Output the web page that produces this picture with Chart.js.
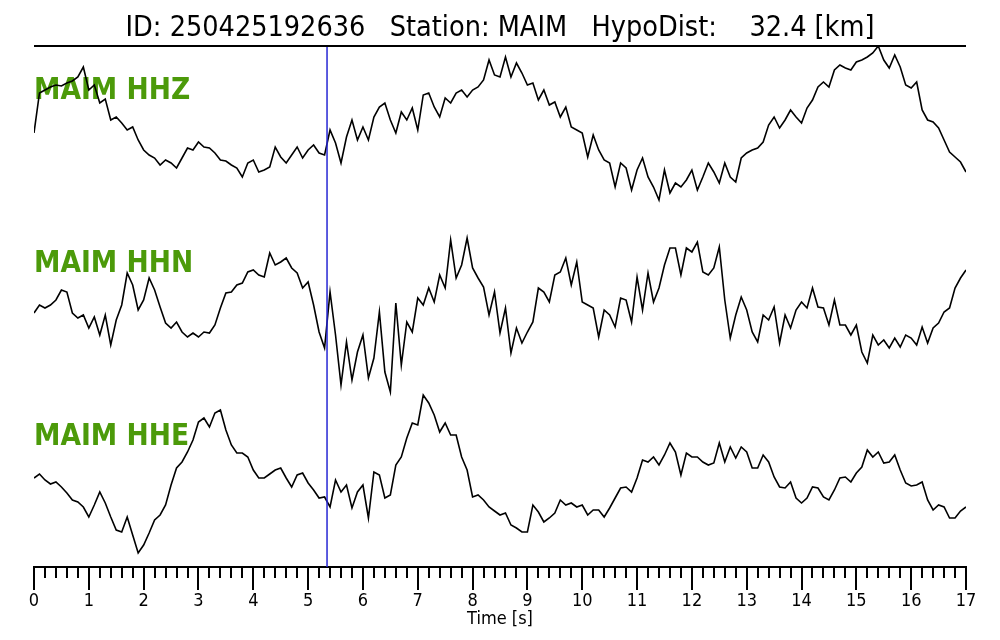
<!DOCTYPE html>
<html>
<head>
<meta charset="utf-8">
<title>MAIM waveforms</title>
<script src="https://cdn.jsdelivr.net/npm/chart.js@4"></script>
<style>
  html, body { margin: 0; padding: 0; background: #fff; }
  canvas { display: block; }
</style>
</head>
<body>
<canvas id="traces" width="1000" height="640"></canvas>
<script>
// Header
const eventId = '250425192636';
const stationCode = 'MAIM';
const hypoDistKm = 32.4;

// Channels, top to bottom
const channels = ['HHZ', 'HHN', 'HHE'];

// Time axis
const timeMin = 0;
const timeMax = 17;
const sampleStep = 0.1;   // s between values below
const pickTime = 5.345;   // blue marker

// Amplitudes (relative units, 0 = trace centre), t = 0.0 ... 17.0 s
const hhz = [
  -8, 32, 35, 38, 40, 39, 42, 44, 48, 58,
  35, 40, 22, 26, 5, 8, 2, -5, -2, -15,
  -25, -30, -33, -40, -35, -38, -43, -33, -23, -25,
  -17, -22, -23, -28, -35, -36, -40, -43, -52, -38,
  -35, -47, -45, -42, -22, -32, -38, -30, -22, -33,
  -25, -20, -28, -30, -5, -18, -38, -12, 5, -15,
  -2, -15, 8, 18, 22, 5, -8, 13, 5, 17,
  -5, 30, 32, 18, 8, 27, 22, 32, 35, 28,
  35, 38, 45, 65, 50, 48, 68, 48, 62, 52,
  40, 42, 25, 35, 20, 23, 8, 18, -2, -5,
  -8, -32, -10, -25, -35, -38, -62, -38, -43, -65,
  -45, -33, -52, -62, -75, -45, -68, -58, -62, -55,
  -45, -65, -52, -38, -47, -58, -38, -52, -57, -33,
  -28, -25, -23, -17, 0, 8, -3, 5, 15, 8,
  2, 17, 25, 38, 43, 38, 55, 60, 57, 55,
  63, 65, 68, 72, 79, 65, 57, 70, 58, 40,
  37, 43, 15, 5, 3, -3, -15, -27, -32, -37,
  -47
];
const hhn = [
  2, 10, 7, 10, 15, 25, 23, 2, -3, 0,
  -13, -2, -20, 0, -30, -5, 10, 42, 30, 5,
  15, 37, 25, 8, -8, -13, -7, -17, -22, -18,
  -22, -17, -18, -10, 7, 22, 23, 30, 32, 43,
  45, 40, 38, 62, 50, 53, 57, 47, 42, 27,
  33, 10, -17, -33, 23, -20, -70, -27, -65, -37,
  -20, -63, -43, 3, -57, -77, 12, -50, -7, -17,
  17, 10, 27, 13, 40, 27, 75, 37, 50, 77,
  47, 37, 28, 0, 23, -18, 7, -38, -13, -28,
  -17, -7, 27, 23, 13, 40, 43, 57, 30, 53,
  13, 10, 7, -22, 5, 0, -12, 17, 15, -7,
  38, 5, 42, 13, 27, 50, 67, 67, 40, 67,
  63, 73, 43, 40, 47, 68, 15, -23, 0, 18,
  5, -17, -27, 0, -5, 8, -28, 0, -13, 5,
  13, 7, 27, 8, 7, -10, 15, -10, -10, -20,
  -10, -37, -48, -20, -30, -25, -33, -23, -32, -20,
  -23, -30, -12, -28, -13, -8, 3, 7, 27, 37,
  45
];
const hhe = [
  -3, 1, -5, -9, -7, -12, -18, -25, -27, -32,
  -42, -30, -17, -28, -42, -55, -57, -42, -60, -78,
  -70, -58, -45, -40, -30, -10, 7, 13, 23, 35,
  53, 57, 48, 62, 65, 45, 30, 22, 22, 18,
  5, -3, -3, 1, 5, 7, -3, -12, 0, 2,
  -8, -15, -23, -22, -32, -5, -17, -10, -33, -17,
  -10, -43, 3, 0, -23, -20, 10, 18, 37, 52,
  50, 80, 72, 60, 43, 52, 40, 40, 18, 5,
  -22, -20, -25, -32, -36, -40, -38, -50, -53, -57,
  -57, -30, -37, -47, -43, -38, -25, -30, -28, -32,
  -30, -40, -35, -35, -42, -33, -23, -13, -12, -17,
  -3, 15, 13, 18, 10, 20, 32, 23, 0, 22,
  18, 18, 13, 10, 12, 32, 13, 28, 17, 28,
  23, 7, 7, 20, 13, -2, -12, -13, -7, -23,
  -28, -23, -12, -13, -22, -25, -15, -3, -2, -7,
  2, 8, 25, 18, 23, 12, 13, 20, 5, -8,
  -11, -10, -7, -25, -35, -30, -32, -43, -43, -36,
  -32
];

// Stacking of the traces on the shared y scale
const yTop = 521;
const traceOffsets = [442, 252, 92];
const labelLevels = [475.5, 302.5, 129.5];

const labelGreen = '#4c9a0a';
const fontFamily = '"DejaVu Sans Condensed", "DejaVu Sans", sans-serif';

function toPoints(values, offset) {
  return values.map((v, i) => ({ x: Math.round(i * sampleStep * 100) / 100, y: v + offset }));
}

const traceSets = [hhz, hhn, hhe].map((values, i) => ({
  label: channels[i],
  data: toPoints(values, traceOffsets[i]),
  borderColor: '#000',
  borderWidth: 1.6,
  pointRadius: 0,
  tension: 0,
  order: 1
}));

const pickSet = {
  label: 'pick',
  data: [{ x: pickTime, y: 0 }, { x: pickTime, y: yTop }],
  borderColor: '#2626d4',
  borderWidth: 1.5,
  pointRadius: 0,
  order: 0
};

// Station labels, top rule and minor ticks
const decorations = {
  id: 'decorations',
  beforeDatasetsDraw(chart) {
    const { ctx, chartArea, scales } = chart;
    ctx.save();
    ctx.font = `bold 29.5px ${fontFamily}`;
    ctx.fillStyle = labelGreen;
    ctx.textBaseline = 'middle';
    ctx.textAlign = 'left';
    channels.forEach((ch, i) => {
      ctx.fillText(`${stationCode} ${ch}`, chartArea.left, scales.y.getPixelForValue(labelLevels[i]));
    });
    ctx.restore();
  },
  afterDraw(chart) {
    const { ctx, chartArea, scales } = chart;
    ctx.save();
    ctx.strokeStyle = '#000';
    ctx.lineWidth = 1.8;
    ctx.beginPath();
    ctx.moveTo(chartArea.left, chartArea.top);
    ctx.lineTo(chartArea.right, chartArea.top);
    ctx.stroke();

    ctx.lineWidth = 2;
    ctx.beginPath();
    for (let k = 1; k < timeMax * 5; k++) {
      if (k % 5 === 0) continue;
      const px = Math.round(scales.x.getPixelForValue(k / 5));
      ctx.moveTo(px, chartArea.bottom);
      ctx.lineTo(px, chartArea.bottom + 11);
    }
    ctx.stroke();
    ctx.restore();
  }
};

new Chart(document.getElementById('traces'), {
  type: 'line',
  data: { datasets: [pickSet, ...traceSets] },
  options: {
    responsive: false,
    animation: false,
    events: [],
    layout: { padding: { left: 34, right: 34, top: 0, bottom: 0 } },
    plugins: {
      legend: { display: false },
      tooltip: { enabled: false },
      title: {
        display: true,
        text: `ID: ${eventId}   Station: ${stationCode}   HypoDist:    ${hypoDistKm.toFixed(1)} [km]`,
        color: '#000',
        font: { family: fontFamily, size: 28.5, weight: 'normal', lineHeight: 1.1 },
        padding: { top: 12.5, bottom: 2.15 }
      }
    },
    scales: {
      x: {
        type: 'linear',
        min: timeMin,
        max: timeMax,
        border: { display: true, color: '#000', width: 2 },
        grid: {
          drawOnChartArea: false,
          drawTicks: true,
          tickLength: 23,
          color: '#000',
          lineWidth: 2
        },
        ticks: {
          stepSize: 1,
          color: '#000',
          padding: 2.5,
          maxRotation: 0,
          autoSkip: false,
          font: { family: fontFamily, size: 18, lineHeight: 1 }
        },
        title: {
          display: true,
          text: 'Time [s]',
          color: '#000',
          font: { family: fontFamily, size: 18, lineHeight: 1 },
          padding: { top: -3, bottom: 12 }
        }
      },
      y: {
        display: false,
        min: 0,
        max: yTop
      }
    }
  },
  plugins: [decorations]
});
</script>
</body>
</html>
